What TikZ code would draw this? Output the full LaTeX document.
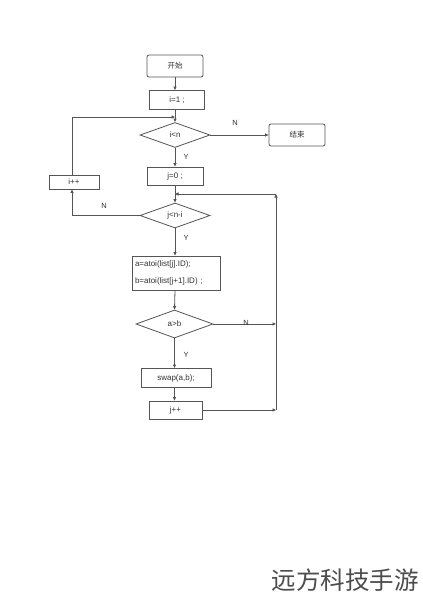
\documentclass[tikz,border=0pt]{standalone}
\usepackage{fontspec}
\setmainfont{Liberation Sans}
\newfontfamily\cjk{Noto Sans CJK SC}
\usetikzlibrary{shapes.geometric,arrows.meta}
\definecolor{ln}{HTML}{555555}
\definecolor{tx}{HTML}{333333}
\tikzset{
  base/.style={draw=ln, line width=0.8pt, text=tx, font=\fontsize{8}{9.5}\selectfont, inner sep=0pt},
  procbox/.style={base, rectangle, minimum width=#1, minimum height=19pt},
  termbox/.style={base, rectangle, rounded corners=2pt, minimum width=56pt, minimum height=22pt, font=\cjk\fontsize{7.5}{9}\selectfont},
  decbox/.style={base, diamond, aspect=2.9, minimum width=#1, minimum height=25pt},
  arr/.style={draw=ln, line width=0.8pt, -{Triangle[length=3.5pt,width=3pt]}},
  lnk/.style={draw=ln, line width=0.8pt},
  lab/.style={text=tx, font=\fontsize{7.5}{9}\selectfont, inner sep=0pt}
}
\begin{document}
\begin{tikzpicture}[x=1pt,y=-1pt]
\useasboundingbox (0,0) rectangle (423,600);
\fill[white] (0,0) rectangle (423,600);
\node[termbox] (start) at (175,66) {开始};
\node[procbox=55pt] (i1) at (177,100) {i=1 ;};
\node[decbox=70pt] (d1) at (175,135) {i<n};
\node[termbox] (end) at (297,135) {结束};
\node[procbox=56pt, minimum height=18pt] (j0) at (175,176) {j=0 ;};
\node[procbox=50pt, minimum height=14pt] (ipp) at (74,182) {i++};
\node[decbox=70pt] (d2) at (175,215.5) {j<n-i};
\node[base, rectangle, minimum width=88pt, minimum height=34pt, align=left, text width=82pt] (ab) at (176,273) {a=atoi(list[j].ID);\\[8pt]b=atoi(list[j+1].ID) ;};
\node[decbox=77pt, minimum height=28pt] (d3) at (174.5,324) {a>b};
\node[procbox=70pt] (swap) at (176,378) {swap(a,b);};
\node[procbox=53pt, minimum height=18pt] (jpp) at (175.5,410) {j++};

\coordinate (top1) at (175,117);
\coordinate (lc1) at (72,117);
\coordinate (lc2) at (72,215.5);
\coordinate (top2) at (175,194);
\coordinate (rc1) at (276,194);
\coordinate (rc2) at (276,324);
\coordinate (rc3) at (276,410);

\draw[arr] (start.south) -- (start.south |- i1.north);
\draw[arr] (d1.north |- i1.south) -- (d1.north);
\draw[arr] (d1.east) -- (end.west);
\draw[arr] (d1.south) -- (j0.north);
\draw[arr] (j0.south) -- (d2.north);
\draw[lnk] (d2.west) -- (lc2);
\draw[arr] (lc2) -- (lc2 |- ipp.south);
\draw[lnk] (lc2 |- ipp.north) -- (lc1);
\draw[arr] (lc1) -- (top1);
\draw[arr] (d2.south) -- (d2.south |- ab.north);
\draw[arr] (d2.south |- ab.south) -- (d3.north);
\draw[arr] (d3.east) -- (rc2);
\draw[arr] (d3.south) -- (d3.south |- swap.north);
\draw[arr] (d3.south |- swap.south) -- (d3.south |- jpp.north);
\draw[arr] (jpp.east) -- (rc3);
\draw[arr] (rc3) -- (rc1);
\draw[arr] (rc1) -- (top2);

\node[lab] (n1) at (235,123) {N};
\node[lab] (y1) at (186,157) {Y};
\node[lab] (n2) at (104,206) {N};
\node[lab] (y2) at (186,238) {Y};
\node[lab] (n3) at (246,323) {N};
\node[lab] (y3) at (186,355) {Y};

\node[text=black!70, font=\cjk\fontsize{24.5}{28}\selectfont, inner sep=0pt] (wm) at (345,580) {远方科技手游};
\end{tikzpicture}
\end{document}
